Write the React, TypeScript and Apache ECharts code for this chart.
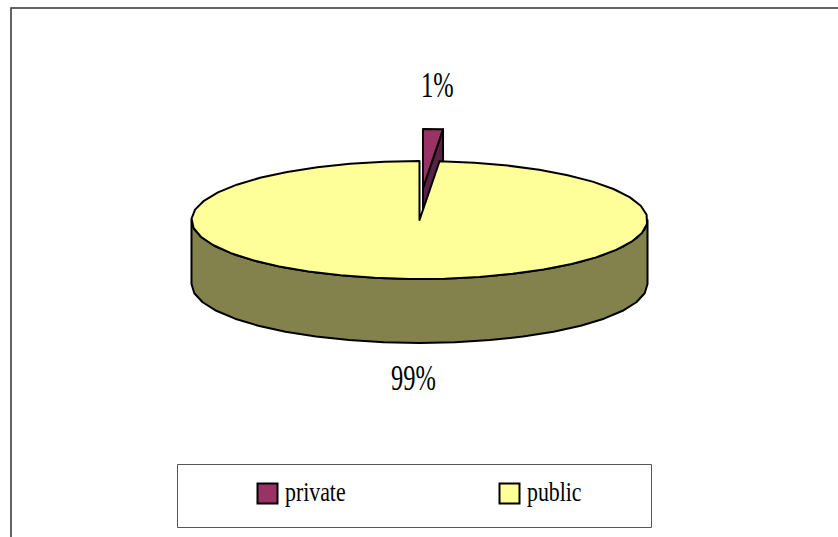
import React, { useEffect, useRef } from "react";
import * as echarts from "echarts";

const categories = ["private", "public"];
const shares = [1.4, 98.6];
const topColors = ["#993366", "#FFFF99"];
const sideColors = ["#5A2147", "#83824C"];

const CX = 419.5;
const CY = 220;
const RX = 228;
const RY = 59;
const DEPTH = 64;
const INK = "#000000";
const FONT = '"Liberation Serif", serif';
const total = shares.reduce((a, b) => a + b, 0);

const rim = (a: number, ox: number, oy: number): number[] => [
  ox + RX * Math.sin(a),
  oy - RY * Math.cos(a),
];

const arcPoints = (from: number, to: number, ox: number, oy: number): number[][] => {
  const step = (Math.PI * 2) / 40;
  const n = Math.max(1, Math.ceil((to - from) / step));
  const pts: number[][] = [];
  for (let i = 0; i <= n; i++) pts.push(rim(from + ((to - from) * i) / n, ox, oy));
  return pts;
};

const label = (text: string, x: number, y: number, size: number, scaleX: number) => ({
  type: "text",
  x,
  y,
  scaleX,
  silent: true,
  style: { text, x: 0, y: 0, fill: "#000", font: `${size}px ${FONT}`, textAlign: "left", textVerticalAlign: "top" },
});

const renderItem = (params: any, api: any) => {
  const i = params.dataIndex;
  const start = (shares.slice(0, i).reduce((a, b) => a + b, 0) / total) * Math.PI * 2;
  const end = start + (api.value(0) / total) * Math.PI * 2;
  const children: any[] = [];
  const line = { stroke: INK, lineWidth: 2, lineJoin: "round" };
  if (i === 0) {
    const ox = CX + 3.5;
    const oy = CY - 32;
    const outer = rim(end, ox, oy);
    children.push({
      type: "polygon",
      shape: { points: [[ox, oy], outer, [outer[0], outer[1] + DEPTH], [ox, oy + DEPTH]] },
      style: { fill: sideColors[i], ...line },
    });
    children.push({
      type: "polygon",
      shape: { points: [[ox, oy], ...arcPoints(start, end, ox, oy)] },
      style: { fill: topColors[i], ...line },
    });
    children.push(label(`${Math.round(shares[i])}%`, 421, 68, 35, 0.7));
  } else {
    const front = arcPoints(Math.PI / 2, (Math.PI * 3) / 2, CX, CY);
    const frontLow = front.map((p) => [p[0], p[1] + DEPTH]).reverse();
    children.push({
      type: "polygon",
      shape: { points: [...front, ...frontLow] },
      style: { fill: sideColors[i], ...line },
    });
    children.push({
      type: "polygon",
      shape: { points: [[CX, CY], ...arcPoints(start, end, CX, CY)] },
      style: { fill: topColors[i], ...line },
    });
    children.push(label(`${Math.round(shares[i])}%`, 391, 361, 35, 0.7));
  }
  return { type: "group", children };
};

const legendEntries = categories.flatMap((name, i) => {
  const x = i === 0 ? 257.5 : 499.5;
  return [
    {
      type: "rect",
      shape: { x, y: 483.5, width: 20, height: 20 },
      style: { fill: topColors[i], stroke: INK, lineWidth: 2 },
      silent: true,
    },
    {
      type: "text",
      x: x + 27.5,
      y: 478,
      scaleX: 0.78,
      silent: true,
      style: { text: name, x: 0, y: 0, fill: "#000", font: `28px ${FONT}`, textAlign: "left", textVerticalAlign: "top" },
    },
  ];
});

export default function App() {
  const ref = useRef<HTMLDivElement>(null);
  useEffect(() => {
    const chart = echarts.init(ref.current!, undefined, { renderer: "svg" });
    chart.setOption({
      animation: false,
      backgroundColor: "#ffffff",
      graphic: {
        elements: [
          {
            type: "rect",
            shape: { x: 11, y: 8, width: 1000, height: 1000 },
            style: { fill: "transparent", stroke: "#333333", lineWidth: 1.5 },
            silent: true,
          },
          {
            type: "rect",
            shape: { x: 177.5, y: 464.5, width: 474, height: 63 },
            style: { fill: "#ffffff", stroke: "#555555", lineWidth: 1 },
            silent: true,
          },
          ...legendEntries,
        ],
      },
      series: [
        {
          type: "custom",
          coordinateSystem: "none",
          silent: true,
          renderItem,
          data: shares.map((v) => [v]),
        },
      ],
    });
    return () => chart.dispose();
  }, []);
  return (
    <div
      ref={ref}
      style={{ position: "fixed", left: 0, top: 0, width: 838, height: 537, overflow: "hidden" }}
    />
  );
}
